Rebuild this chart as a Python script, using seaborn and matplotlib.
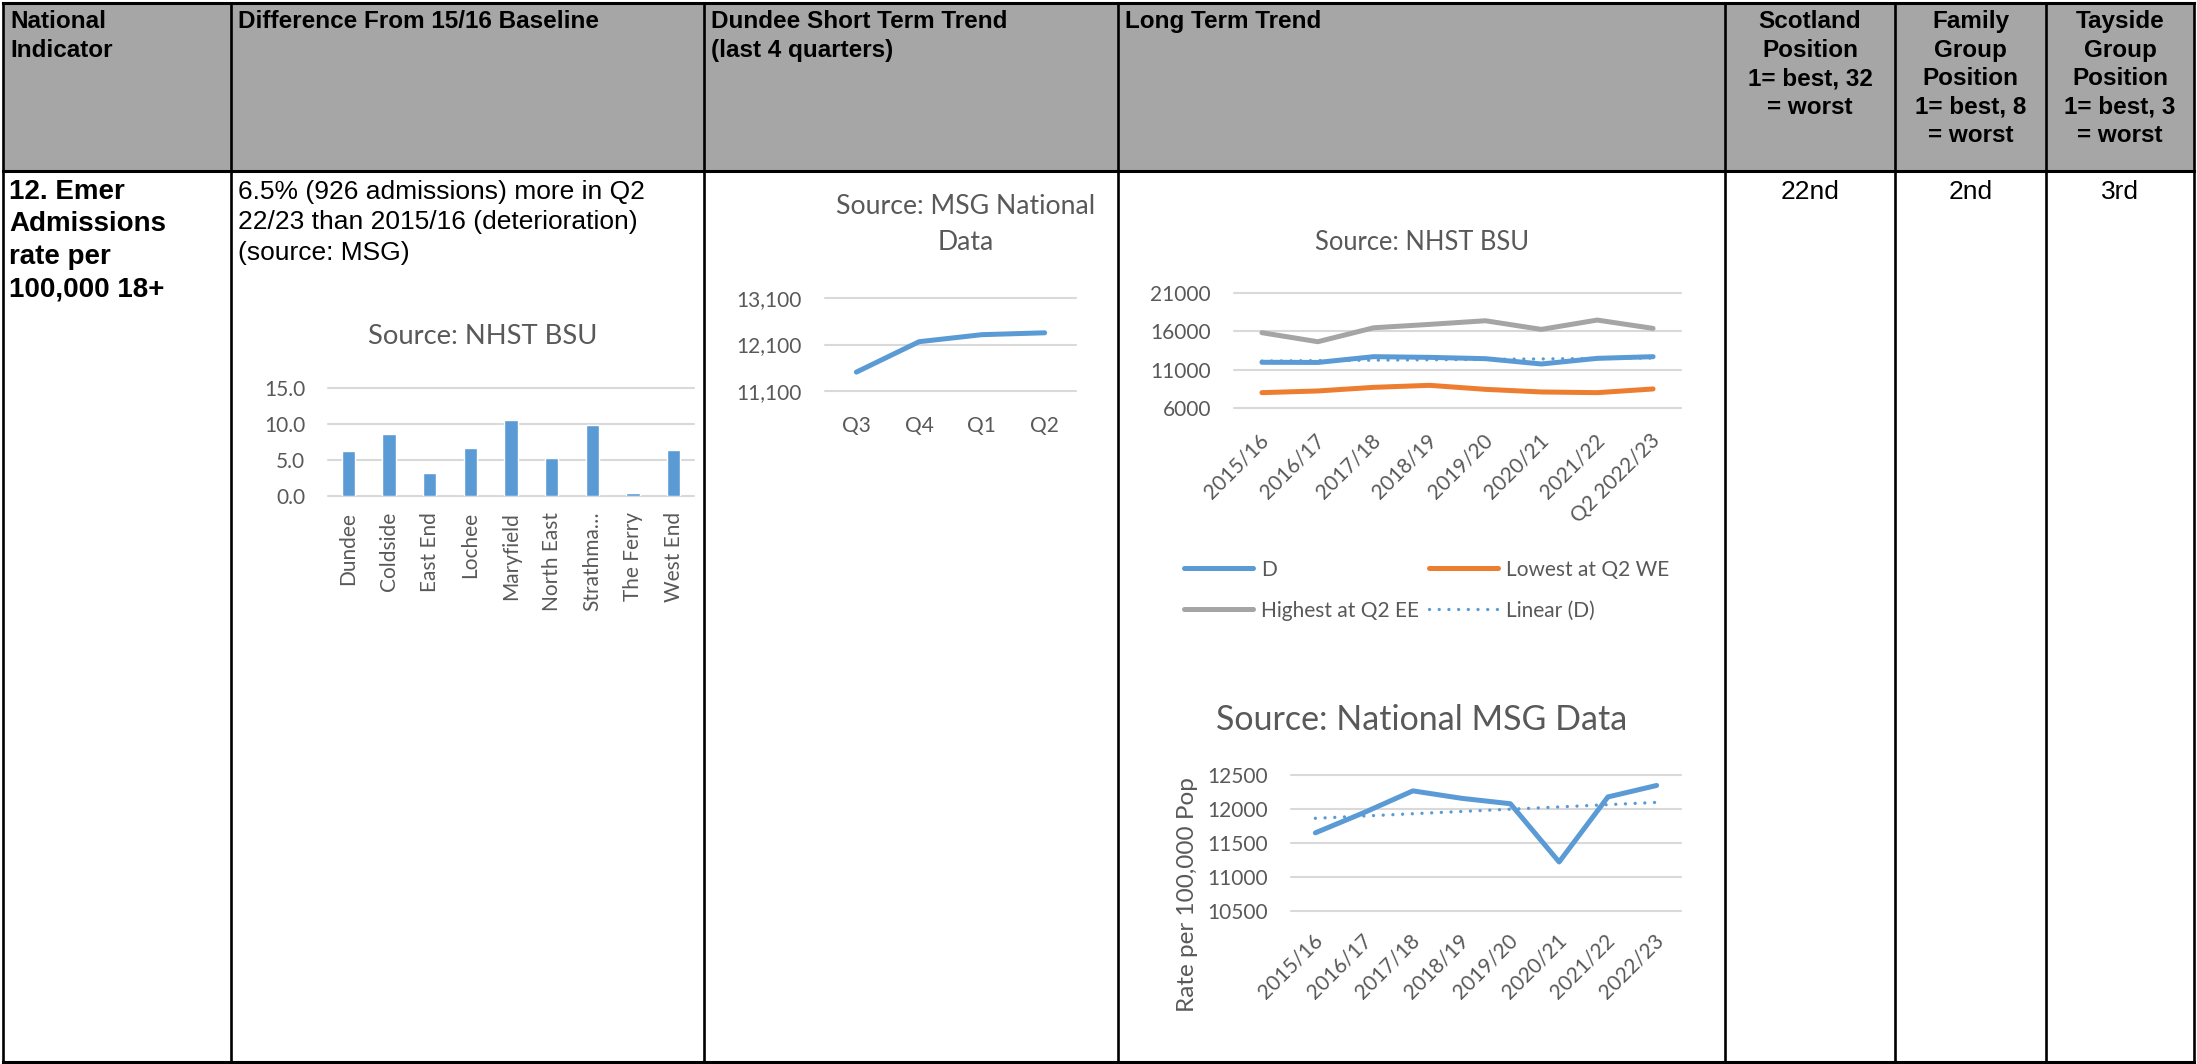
import numpy as np
import pandas as pd
import seaborn as sns
import matplotlib.pyplot as plt
from matplotlib.patches import Rectangle
from matplotlib.ticker import StrMethodFormatter
import matplotlib.transforms as mtransforms

W, H = 2197, 1064

# --- data ---
wards = ["Dundee", "Coldside", "East End", "Lochee", "Maryfield",
         "North East", "Strathma…", "The Ferry", "West End"]
ward_pct = [6.2, 8.6, 3.2, 6.6, 10.6, 5.3, 9.9, 0.4, 6.4]

quarters = ["Q3", "Q4", "Q1", "Q2"]
quarter_rate = [11510, 12160, 12310, 12350]

bsu_years = ["2015/16", "2016/17", "2017/18", "2018/19", "2019/20",
             "2020/21", "2021/22", "Q2 2022/23"]
bsu_d = [11970, 11950, 12700, 12610, 12440, 11750, 12480, 12700]
bsu_lowest = [8030, 8250, 8720, 8980, 8460, 8120, 8030, 8510]
bsu_highest = [15810, 14640, 16450, 16890, 17360, 16240, 17450, 16370]

msg_years = ["2015/16", "2016/17", "2017/18", "2018/19", "2019/20",
             "2020/21", "2021/22", "2022/23"]
msg_rate = [11650, 11950, 12270, 12160, 12080, 11220, 12180, 12350]

headers = ["National\nIndicator", "Difference From 15/16 Baseline",
           "Dundee Short Term Trend\n(last 4 quarters)", "Long Term Trend",
           "Scotland\nPosition\n1= best, 32\n= worst",
           "Family\nGroup\nPosition\n1= best, 8\n= worst",
           "Tayside\nGroup\nPosition\n1= best, 3\n= worst"]
indicator = "12. Emer\nAdmissions\nrate per\n100,000 18+"
difference = "6.5% (926 admissions) more in Q2\n22/23 than 2015/16 (deterioration)\n(source: MSG)"
positions = ["22nd", "2nd", "3rd"]

BLUE, ORANGE, GREY = "#5B9BD5", "#ED7D31", "#A5A5A5"
TXT = "#595959"

sns.set_style("white")
plt.rcParams["font.family"] = ["Lato", "DejaVu Sans"]

fig = plt.figure(figsize=(W / 100, H / 100), dpi=100)

# background axes in pixel coordinates for the table
ax0 = fig.add_axes([0, 0, 1, 1])
ax0.set_xlim(0, W)
ax0.set_ylim(H, 0)
ax0.axis("off")

cols = [3, 231, 704, 1118, 1725, 1895, 2046, 2194]
top, mid, bot = 3, 171, 1062
ax0.add_patch(Rectangle((cols[0], top), cols[-1] - cols[0], mid - top,
                        facecolor="#A6A6A6", edgecolor="none"))
for x in cols:
    ax0.plot([x, x], [top, bot], color="black", lw=1.9, solid_capstyle="projecting")
for y in (top, mid, bot):
    ax0.plot([cols[0], cols[-1]], [y, y], color="black", lw=2.2, solid_capstyle="projecting")

arial = ["Liberation Sans", "DejaVu Sans"]
head = dict(family=arial, fontsize=17.5, linespacing=1.31, va="top",
            color="black", fontweight="bold")
body = dict(family=arial, fontsize=19, linespacing=1.34, va="top", color="black")
for i, h in enumerate(headers):
    if i < 4:
        ax0.text(cols[i] + 7, 10, h, ha="left", **head)
    else:
        ax0.text((cols[i] + cols[i + 1]) / 2, 10, h, ha="center",
                 multialignment="center", **head)
ax0.text(cols[0] + 6, 179, indicator, ha="left", fontweight="bold",
         **{**body, "fontsize": 20, "linespacing": 1.32})
ax0.text(cols[1] + 7, 180, difference, ha="left", **body)
for i, p in enumerate(positions):
    ax0.text((cols[4 + i] + cols[5 + i]) / 2, 180, p, ha="center", **body)

# chart titles
ax0.text(483, 337, "Source: NHST BSU", ha="center", va="center", fontsize=19.7, color=TXT)
ax0.text(966, 225, "Source: MSG National\nData", ha="center", va="center",
         fontsize=19.2, color=TXT, linespacing=1.55)
ax0.text(1422, 243, "Source: NHST BSU", ha="center", va="center", fontsize=18.4, color=TXT)
ax0.text(1422, 720, "Source: National MSG Data", ha="center", va="center",
         fontsize=24.5, color=TXT)


def place(x0, y0, x1, y1):
    return fig.add_axes([x0 / W, 1 - y1 / H, (x1 - x0) / W, (y1 - y0) / H])


def style(ax, fmt, ticks, pad):
    ax.set_ylim(ticks[0], ticks[-1])
    ax.set_yticks(ticks)
    ax.yaxis.set_major_formatter(StrMethodFormatter(fmt))
    ax.grid(axis="y", color="#D9D9D9", lw=1.5)
    ax.grid(axis="x", visible=False)
    ax.set_axisbelow(True)
    for g in ax.get_ygridlines():
        g.set_clip_on(False)
    sns.despine(ax=ax, left=True, bottom=True)
    ax.tick_params(length=0, labelsize=15, colors=TXT)
    ax.tick_params(axis="x", pad=pad)
    ax.tick_params(axis="y", pad=16.5)
    ax.set_xlabel("")
    ax.set_ylabel("")


def slant(ax, labels, dx):
    ax.set_xticks(range(len(labels)))
    ax.set_xticklabels(labels, rotation=45, ha="right", va="center",
                       rotation_mode="anchor")
    off = mtransforms.ScaledTranslation(dx / 100, 0, fig.dpi_scale_trans)
    for t in ax.get_xticklabels():
        t.set_transform(t.get_transform() + off)


dotted = dict(color=BLUE, lw=2.4, ls=(0, (0.01, 2.9)), dash_capstyle="round")

# bar chart: difference by ward
ax1 = place(328, 388, 694, 496)
sns.barplot(x=wards, y=ward_pct, color=BLUE, saturation=1, width=0.33, ax=ax1)
style(ax1, "{x:.1f}", [0, 5, 10, 15], 11.5)
ax1.set_xlim(-0.5, len(wards) - 0.5)
ax1.tick_params(axis="x", rotation=90)

# short term trend
ax2 = place(825, 297.7, 1076, 391.3)
df_q = pd.DataFrame({"pos": np.arange(len(quarters)), "rate": quarter_rate})
sns.lineplot(data=df_q, x="pos", y="rate", color=BLUE, lw=3.6, ax=ax2)
style(ax2, "{x:,.0f}", [11100, 12100, 13100], 18)
ax2.set_xlim(-0.5, len(quarters) - 0.5)
ax2.set_xticks(range(len(quarters)))
ax2.set_xticklabels(quarters)

# long term trend, NHST BSU
ax3 = place(1234, 292.7, 1681, 408.3)
df_b = pd.DataFrame({"pos": np.arange(len(bsu_years)), "D": bsu_d,
                     "low": bsu_lowest, "high": bsu_highest})
sns.lineplot(data=df_b, x="pos", y="D", color=BLUE, lw=3.6, label="D", ax=ax3)
sns.lineplot(data=df_b, x="pos", y="low", color=ORANGE, lw=3.6,
             label="Lowest at Q2 WE", ax=ax3)
sns.lineplot(data=df_b, x="pos", y="high", color=GREY, lw=3.6,
             label="Highest at Q2 EE", ax=ax3)
sns.regplot(data=df_b, x="pos", y="D", scatter=False, ci=None, truncate=True,
            label="Linear (D)", ax=ax3, line_kws=dotted)
style(ax3, "{x:.0f}", [6000, 11000, 16000, 21000], 21)
ax3.set_xlim(-0.5, len(bsu_years) - 0.5)
slant(ax3, bsu_years, 4)
hd, lb = ax3.get_legend_handles_labels()
order = [lb.index(k) for k in ["D", "Highest at Q2 EE", "Lowest at Q2 WE", "Linear (D)"]]
ax3.legend([hd[i] for i in order], [lb[i] for i in order], ncol=2,
           loc="upper left", bbox_to_anchor=(1165 / W, 1 - 541 / H),
           bbox_transform=fig.transFigure, frameon=False, fontsize=15,
           handlelength=3.3, handletextpad=0.4, columnspacing=0.5,
           labelspacing=1.0, labelcolor=TXT)

# long term trend, national MSG data
ax4 = place(1291, 775.3, 1681, 910.7)
df_m = pd.DataFrame({"pos": np.arange(len(msg_years)), "rate": msg_rate})
sns.lineplot(data=df_m, x="pos", y="rate", color=BLUE, lw=3.6, ax=ax4)
sns.regplot(data=df_m, x="pos", y="rate", scatter=False, ci=None, truncate=True,
            ax=ax4, line_kws=dotted)
style(ax4, "{x:.0f}", [10500, 11000, 11500, 12000, 12500], 19)
ax4.set_xlim(-0.5, len(msg_years) - 0.5)
slant(ax4, msg_years, 4)
ax4.set_ylabel("Rate per 100,000 Pop", fontsize=17.5, color=TXT)
ax4.yaxis.set_label_coords((1198 - 1291) / 390, (910.7 - 895) / 135.4)

fig.savefig("out.png", dpi=100)
